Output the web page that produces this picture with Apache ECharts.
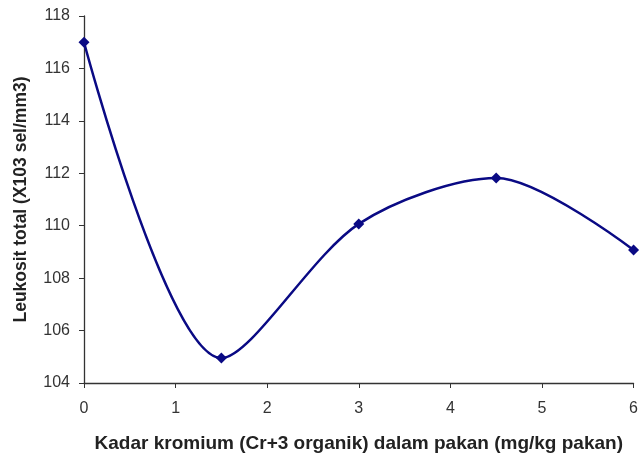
<!DOCTYPE html>
<html><head><meta charset="utf-8">
<script src="https://cdn.jsdelivr.net/npm/echarts@6/dist/echarts.min.js"></script>
<style>html,body{margin:0;padding:0;background:#fff}#c{width:641px;height:458px}</style>
</head><body><div id="c"></div>
<script>
const xValues = [0, 1.5, 3, 4.5, 6];
const yValues = [117, 104.95, 110.07, 111.82, 109.07];
const xTicks = [0, 1, 2, 3, 4, 5, 6];
const yTicks = [104, 106, 108, 110, 112, 114, 116, 118];
const xTitle = 'Kadar kromium (Cr+3 organik) dalam pakan (mg/kg pakan)';
const yTitle = 'Leukosit total (X103 sel/mm3)';

const chart = echarts.init(document.getElementById('c'), null, {renderer: 'canvas'});
const font = 'Liberation Sans, Arial, sans-serif';
chart.setOption({
  animation: false,
  grid: {left: 84, right: 5, top: 16, bottom: 74},
  xAxis: {
    type: 'value', min: xTicks[0], max: xTicks[xTicks.length - 1], interval: 1,
    name: xTitle, nameLocation: 'middle', nameGap: 51,
    nameTextStyle: {fontFamily: font, fontSize: 19, fontWeight: 'bold', color: '#222'},
    axisLine: {lineStyle: {color: '#333', width: 1.3}},
    axisTick: {show: true, length: 5, lineStyle: {color: '#333'}},
    axisLabel: {fontFamily: font, fontSize: 16, color: '#333', margin: 18},
    splitLine: {show: false}
  },
  yAxis: {
    type: 'value', min: yTicks[0], max: yTicks[yTicks.length - 1], interval: 2,
    name: yTitle, nameLocation: 'middle', nameGap: 54, nameRotate: 90,
    nameTextStyle: {fontFamily: font, fontSize: 17.5, fontWeight: 'bold', color: '#222'},
    axisLine: {show: true, lineStyle: {color: '#333', width: 1.3}},
    axisTick: {show: true, length: 5, lineStyle: {color: '#333'}},
    axisLabel: {fontFamily: font, fontSize: 16, color: '#333', margin: 14},
    splitLine: {show: false}
  },
  series: [{
    type: 'line',
    data: xValues.map((x, i) => [x, yValues[i]]),
    smooth: 0.3,
    symbol: 'diamond', symbolSize: 11,
    lineStyle: {color: '#0a0a84', width: 2.5},
    itemStyle: {color: '#0a0a84'}
  }]
});
</script></body></html>
